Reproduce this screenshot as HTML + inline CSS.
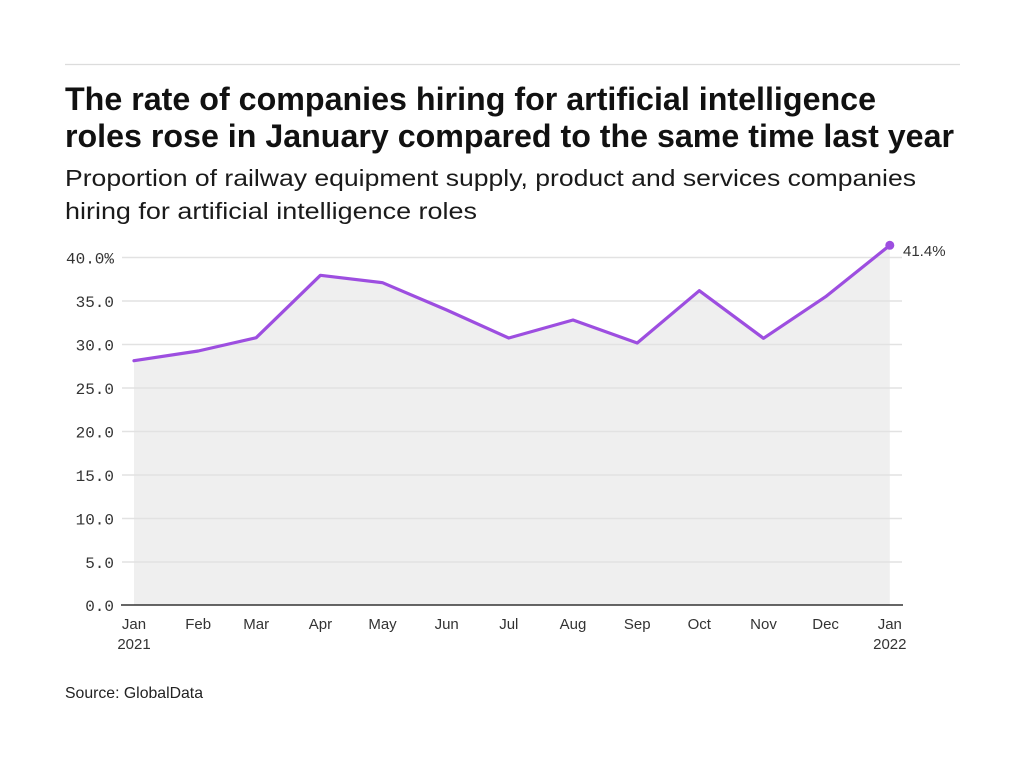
<!DOCTYPE html>
<html><head><meta charset="utf-8"><style>
html,body{margin:0;padding:0;background:#fff;}
svg{display:block;}
.t{font-family:"Liberation Sans",sans-serif;font-weight:bold;font-size:32px;fill:#111;}
.s{font-family:"Liberation Sans",sans-serif;font-size:23px;fill:#1a1a1a;}
.y{font-family:"Liberation Mono",monospace;font-size:16px;fill:#333;}
.x{font-family:"Liberation Sans",sans-serif;font-size:15px;fill:#333;}
</style></head><body>
<svg width="1024" height="768" viewBox="0 0 1024 768" xmlns="http://www.w3.org/2000/svg">
<rect width="1024" height="768" fill="#fff"/>
<line x1="65" y1="64.5" x2="960" y2="64.5" stroke="#dcdcdc" stroke-width="1.3"/>
<text class="t" x="65" y="110" textLength="811" lengthAdjust="spacingAndGlyphs">The rate of companies hiring for artificial intelligence</text>
<text class="t" x="65" y="147" textLength="889" lengthAdjust="spacingAndGlyphs">roles rose in January compared to the same time last year</text>
<text class="s" x="65" y="186" textLength="851" lengthAdjust="spacingAndGlyphs">Proportion of railway equipment supply, product and services companies</text>
<text class="s" x="65" y="219" textLength="412" lengthAdjust="spacingAndGlyphs">hiring for artificial intelligence roles</text>

<path d="M134,360.7 L198.2,351 L256.2,337.7 L320.4,275.3 L382.5,282.7 L446.7,310 L508.8,338 L573,320 L637.2,343 L699.3,290.7 L763.5,338.3 L825.6,296.7 L889.8,245.3 L889.8,605 L134,605 Z" fill="#efefef"/>

<g stroke="#e2e2e2" stroke-width="1.5">
<line x1="122" y1="257.5" x2="902" y2="257.5"/>
<line x1="122" y1="301" x2="902" y2="301"/>
<line x1="122" y1="344.5" x2="902" y2="344.5"/>
<line x1="122" y1="388" x2="902" y2="388"/>
<line x1="122" y1="431.5" x2="902" y2="431.5"/>
<line x1="122" y1="475" x2="902" y2="475"/>
<line x1="122" y1="518.5" x2="902" y2="518.5"/>
<line x1="122" y1="562" x2="902" y2="562"/>
</g>
<line x1="121" y1="605" x2="903" y2="605" stroke="#333" stroke-width="1.5"/>

<g class="y" text-anchor="end">
<text x="114" y="263.5">40.0%</text>
<text x="114" y="307">35.0</text>
<text x="114" y="350.5">30.0</text>
<text x="114" y="394">25.0</text>
<text x="114" y="437.5">20.0</text>
<text x="114" y="481">15.0</text>
<text x="114" y="524.5">10.0</text>
<text x="114" y="568">5.0</text>
<text x="114" y="611">0.0</text>
</g>

<polyline points="134,360.7 198.2,351 256.2,337.7 320.4,275.3 382.5,282.7 446.7,310 508.8,338 573,320 637.2,343 699.3,290.7 763.5,338.3 825.6,296.7 889.8,245.3" fill="none" stroke="#9d4ee0" stroke-width="3.2" stroke-linejoin="round" stroke-linecap="round"/>
<circle cx="889.8" cy="245.3" r="4.5" fill="#9d4ee0"/>
<text x="903" y="256" font-family="Liberation Sans, sans-serif" font-size="15" fill="#333">41.4%</text>

<g class="x" text-anchor="middle">
<text x="134" y="629">Jan</text>
<text x="134" y="649">2021</text>
<text x="198.2" y="629">Feb</text>
<text x="256.2" y="629">Mar</text>
<text x="320.4" y="629">Apr</text>
<text x="382.5" y="629">May</text>
<text x="446.7" y="629">Jun</text>
<text x="508.8" y="629">Jul</text>
<text x="573" y="629">Aug</text>
<text x="637.2" y="629">Sep</text>
<text x="699.3" y="629">Oct</text>
<text x="763.5" y="629">Nov</text>
<text x="825.6" y="629">Dec</text>
<text x="889.8" y="629">Jan</text>
<text x="889.8" y="649">2022</text>
</g>

<text x="65" y="698" font-family="Liberation Sans, sans-serif" font-size="16" fill="#222" textLength="138" lengthAdjust="spacingAndGlyphs">Source: GlobalData</text>
</svg>
</body></html>
